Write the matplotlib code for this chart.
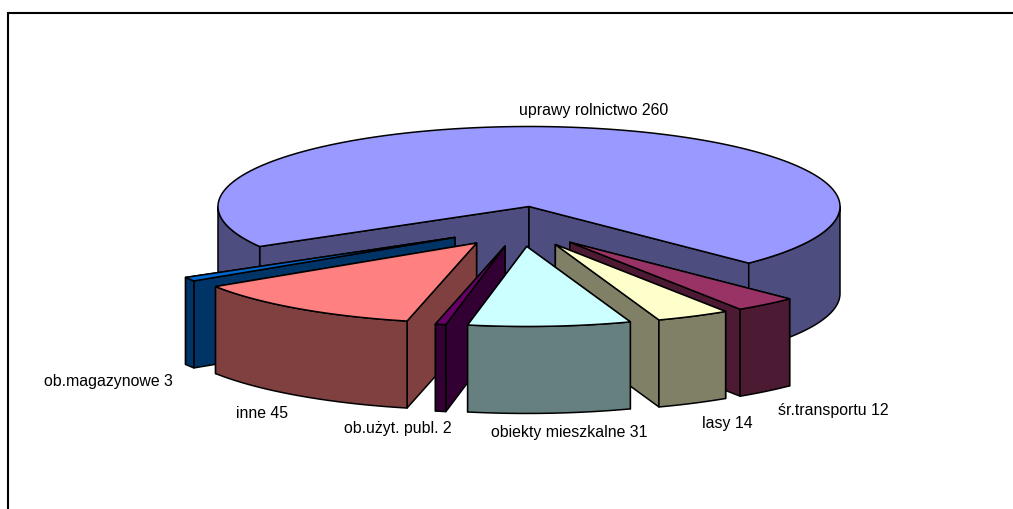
import numpy as np
from matplotlib import pyplot as plt
from matplotlib.patches import Polygon

plt.rcParams['font.family'] = ['Liberation Sans', 'DejaVu Sans']

# clockwise order, first slice starts at 240 deg from 12 o'clock
categories = ["uprawy rolnictwo", "śr.transportu", "lasy", "obiekty mieszkalne",
              "ob.użyt. publ.", "inne", "ob.magazynowe"]
values = [260, 12, 14, 31, 2, 45, 3]
top_colors = ["#9999FF", "#993366", "#FFFFCC", "#CCFFFF", "#660066", "#FF8080", "#0066CC"]
side_colors = ["#4D4D80", "#4D1A33", "#808066", "#668080", "#330033", "#804040", "#003366"]

# where the labels sit, in pixels (left edge, middle)
label_x = [519, 778, 702, 491, 344, 236, 44]
label_y = [110, 411, 424, 433, 429, 414, 382]

START = 240
CX, CY = 529, 207.5
RX, RY = 311, 80
DEPTH = 87
# exploded slices move on a small ellipse around a shifted centre
EXPL_RX, EXPL_RY = 77.5, 19
EXPL_SHIFT_X, EXPL_SHIFT_Y = -8, 21
EDGE = dict(edgecolor="black", linewidth=1.1, joinstyle="round")


def rim(cx, cy, a0, a1):
    a = np.radians(np.linspace(a0, a1, max(int(abs(a1 - a0)) * 2, 2)))
    return np.column_stack([cx + RX * np.sin(a), cy - RY * np.cos(a)])


def draw_slice(ax, cx, cy, a0, a1, top, side):
    ends = rim(cx, cy, a0, a1)[[0, -1]]
    drop = np.array([0, DEPTH])
    tip = np.array([cx, cy])

    # cut faces, the one further back goes first
    for end in sorted(ends, key=lambda p: p[1]):
        ax.add_patch(Polygon([tip, end, end + drop, tip + drop], facecolor=side, **EDGE))

    # outer wall, only the part that faces the viewer
    for k in (0, 360):
        lo, hi = max(a0, 90 + k), min(a1, 270 + k)
        if lo < hi:
            arc = rim(cx, cy, lo, hi)
            ax.add_patch(Polygon(np.vstack([arc, arc[::-1] + drop]), facecolor=side, **EDGE))

    ax.add_patch(Polygon(np.vstack([tip, rim(cx, cy, a0, a1)]), facecolor=top, **EDGE))


fig = plt.figure(figsize=(10.13, 5.10), dpi=100)
ax = fig.add_axes([0, 0, 1, 1])
ax.set_xlim(0, 1013)
ax.set_ylim(510, 0)
ax.axis("off")

# chart frame, right and bottom are cut off in the picture
ax.plot([7.5, 7.5, 1013], [510, 13.5, 13.5], color="black", linewidth=1.5, solid_joinstyle="miter")

sweeps = np.array(values) / sum(values) * 360
starts = START + np.concatenate([[0], np.cumsum(sweeps)[:-1]])
mids = np.radians(starts + sweeps / 2)

# back to front
for i in np.argsort(-np.cos(mids)):
    if i == 0:
        cx, cy = CX, CY
    else:
        cx = CX + EXPL_RX * np.sin(mids[i]) + EXPL_SHIFT_X
        cy = CY - EXPL_RY * np.cos(mids[i]) + EXPL_SHIFT_Y
    draw_slice(ax, cx, cy, starts[i], starts[i] + sweeps[i], top_colors[i], side_colors[i])

for name, val, x, y in zip(categories, values, label_x, label_y):
    ax.text(x, y, f"{name} {val}", fontsize=11.4, color="black", ha="left", va="center")

plt.savefig("out.png", dpi=100)
plt.close()
